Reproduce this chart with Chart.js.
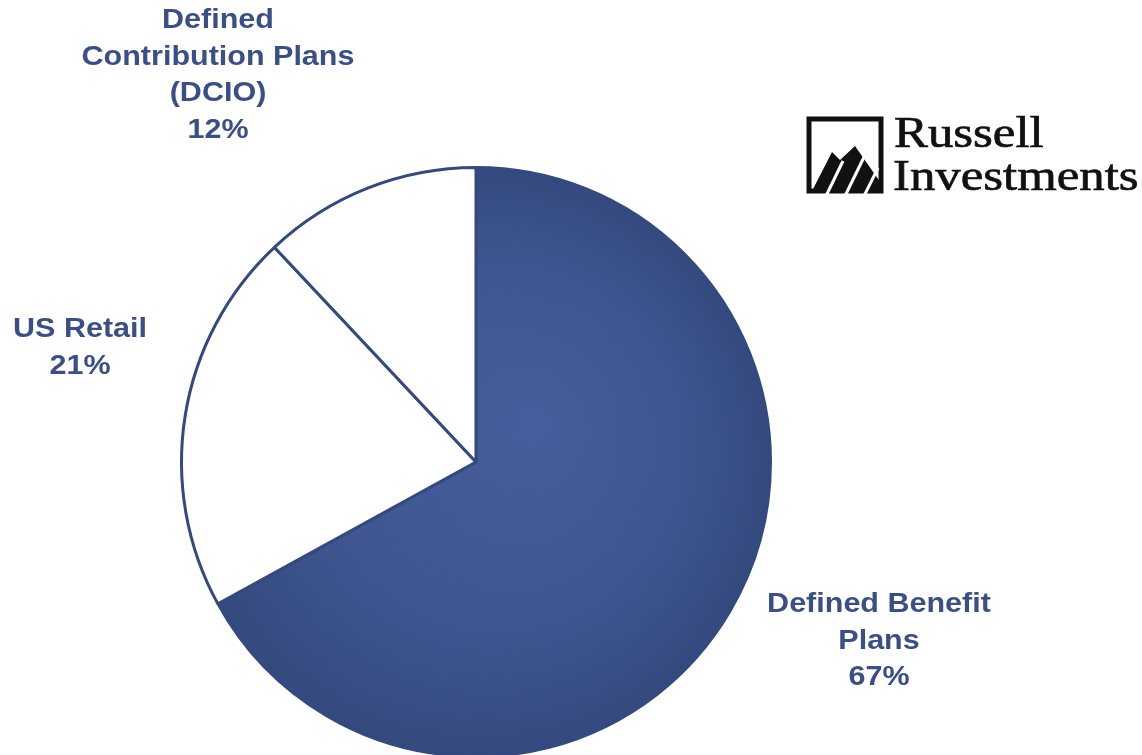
<!DOCTYPE html>
<html>
<head>
<meta charset="utf-8">
<script src="https://cdn.jsdelivr.net/npm/chart.js@4.4.0/dist/chart.umd.min.js"></script>
<style>
  html, body { margin: 0; padding: 0; background: #fff; overflow: hidden; }
  #wrap { position: absolute; left: 0; top: 0; width: 1142px; height: 800px; }
</style>
</head>
<body>
<div id="wrap"><canvas id="myChart" width="1142" height="800"></canvas></div>
<script>
const categories = ["Defined Benefit Plans", "US Retail", "Defined Contribution Plans (DCIO)"];
const shares = [67, 21, 12];
// label text lines and where they sit (centre x, first line y)
const labelLines = [
  ["Defined Benefit", "Plans", "67%"],
  ["US Retail", "21%"],
  ["Defined", "Contribution Plans", "(DCIO)", "12%"]
];
const labelSpots = [[879, 605], [80, 330], [218, 21]];

const ink = "#3a4f88";

const pieLabels = {
  id: "pieLabels",
  afterDraw(chart) {
    const ctx = chart.ctx;
    ctx.save();
    ctx.fillStyle = ink;
    ctx.font = "bold 27px 'Liberation Sans', Arial, sans-serif";
    ctx.textAlign = "center";
    ctx.textBaseline = "middle";
    labelLines.forEach((lines, i) => {
      const [x, y] = labelSpots[i];
      lines.forEach((t, k) => {
        ctx.save();
        ctx.translate(x, y + k * 36.5);
        ctx.scale(1.13, 1);
        ctx.fillText(t, 0, 0);
        ctx.restore();
      });
    });
    ctx.restore();
  }
};

const logo = {
  id: "logo",
  afterDraw(chart) {
    const ctx = chart.ctx;
    ctx.save();
    // frame
    ctx.strokeStyle = "#111";
    ctx.lineWidth = 5;
    ctx.strokeRect(809, 119, 72, 72);
    // mountains, split by white stripes
    ctx.fillStyle = "#111";
    ctx.beginPath();
    ctx.moveTo(811, 193);
    ctx.lineTo(832, 152);
    ctx.lineTo(840, 160);
    ctx.lineTo(855, 146);
    ctx.lineTo(883, 186);
    ctx.lineTo(883, 193);
    ctx.closePath();
    ctx.fill();
    ctx.strokeStyle = "#fff";
    ctx.lineWidth = 3;
    [[826, 196, 843, 161], [845, 196, 866, 153], [864, 196, 878, 168]].forEach(s => {
      ctx.beginPath();
      ctx.moveTo(s[0], s[1]);
      ctx.lineTo(s[2], s[3]);
      ctx.stroke();
    });
    // name
    ctx.fillStyle = "#111";
    ctx.strokeStyle = "#111";
    ctx.lineWidth = 0.7;
    ctx.font = "44px 'Liberation Serif', 'Times New Roman', serif";
    ctx.textBaseline = "alphabetic";
    ctx.textAlign = "left";
    [["Russell", 894, 147], ["Investments", 893, 190]].forEach(([t, x, y]) => {
      ctx.save();
      ctx.translate(x, y);
      ctx.scale(1.155, 1);
      ctx.fillText(t, 0, 0);
      ctx.strokeText(t, 0, 0);
      ctx.restore();
    });
    ctx.restore();
  }
};

const sliceFill = (context) => {
  const chart = context.chart;
  const area = chart.chartArea;
  if (!area) return "#41599a";
  if (context.dataIndex !== 0) return "#ffffff";
  const cx = (area.left + area.right) / 2;
  const cy = (area.top + area.bottom) / 2;
  const r = (area.right - area.left) / 2;
  const g = chart.ctx.createRadialGradient(cx + 60, cy - 40, 0, cx, cy, r);
  g.addColorStop(0, "#455f9e");
  g.addColorStop(0.6, "#3f5691");
  g.addColorStop(1, "#344a7e");
  return g;
};

new Chart(document.getElementById("myChart"), {
  type: "pie",
  data: {
    labels: categories,
    datasets: [{
      data: shares,
      backgroundColor: sliceFill,
      borderColor: "#34497f",
      borderWidth: 3,
      borderAlign: "center"
    }]
  },
  options: {
    responsive: false,
    animation: false,
    layout: { padding: { left: 180, top: 166, right: 370, bottom: 42 } },
    plugins: {
      legend: { display: false },
      tooltip: { enabled: false }
    }
  },
  plugins: [pieLabels, logo]
});
</script>
</body>
</html>
